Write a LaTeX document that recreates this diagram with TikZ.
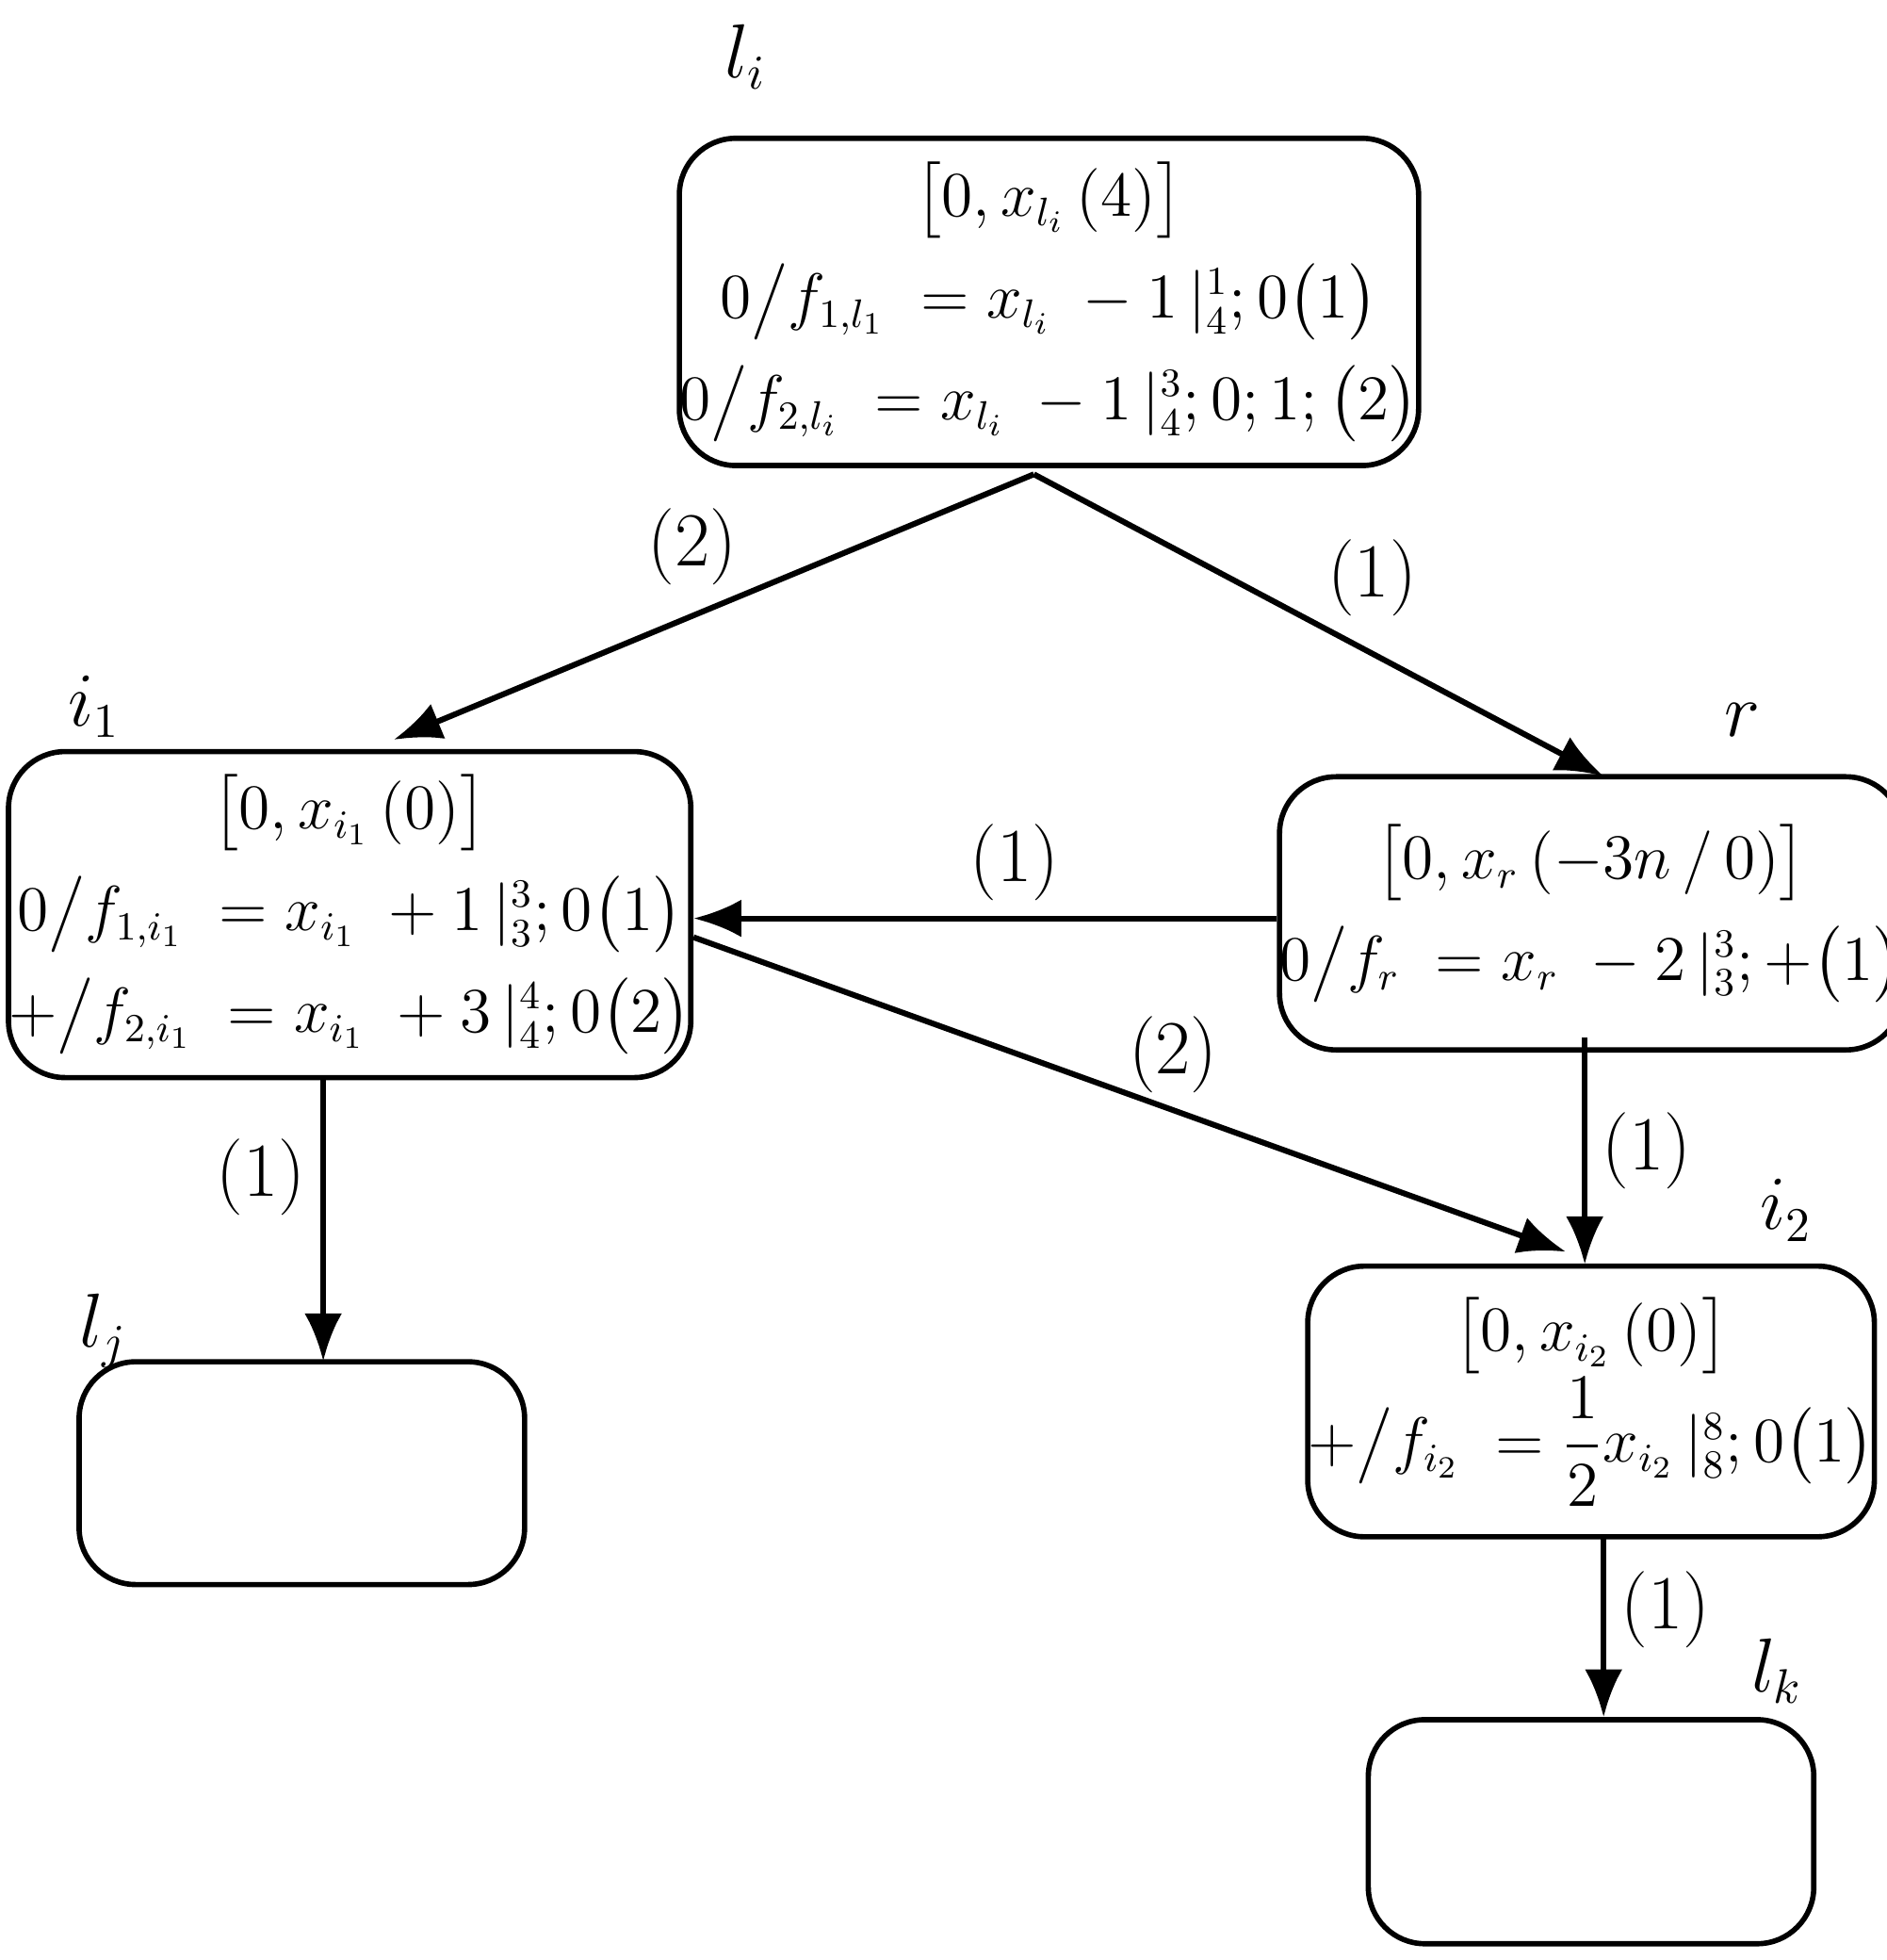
\documentclass[tikz,border=0pt]{standalone}
\usepackage{amsmath}
\usetikzlibrary{arrows.meta}
\begin{document}
\begin{tikzpicture}[x=0.01cm,y=-0.01cm,
 box/.style={draw,line width=1.2pt,rounded corners=0.45cm,align=center,inner sep=0pt,font=\fontsize{13.5}{21}\selectfont},
 arr/.style={line width=1.3pt,-{Latex[length=0.38cm,width=0.3cm]}},
 lab/.style={font=\fontsize{16}{18}\selectfont},
 nm/.style={font=\fontsize{16}{18}\selectfont}]
\useasboundingbox (0,0) rectangle (1500,1558);
\node[box,minimum width=5.18cm,minimum height=2.6cm] (li) at (834,240)
 {$\bigl[0,x_{l_i}\,(4)\bigr]$\\[2pt] $0\big/f_{1,l_1}\;=x_{l_i}\;-1\,|_4^1;0\bigl(1\bigr)$\\[2pt] $0\big/f_{2,l_i}\;=x_{l_i}\;-1\,|_4^3;0;1;\bigl(2\bigr)$};
\node[box,minimum width=5.2cm,minimum height=2.59cm] (i1) at (278,727)
 {$\bigl[0,x_{i_1}\,(0)\bigr]$\\[2pt] $0\big/f_{1,i_1}\;=x_{i_1}\;+1\,|_3^3;0\bigl(1\bigr)$\\[2pt] $+\big/f_{2,i_1}\;=x_{i_1}\;+3\,|_4^4;0\bigl(2\bigr)$};
\node[box,minimum width=4.36cm,minimum height=2.17cm] (r) at (1265,726)
 {$\bigl[0,x_r\,(-3n\,/\,0)\bigr]$\\[2pt] $0\big/f_r\;=x_r\;-2\,|_3^3;+\bigl(1\bigr)$};
\node[box,minimum width=4.36cm,minimum height=2.15cm] (i2) at (1265,1114)
 {$\bigl[0,x_{i_2}\,(0)\bigr]$\\[0pt] $+\big/f_{i_2}\;=\dfrac{1}{2}x_{i_2}\,|_8^8;0\bigl(1\bigr)$};
\node[box,minimum width=3.54cm,minimum height=1.77cm] (lj) at (240,1171) {};
\node[box,minimum width=3.54cm,minimum height=1.78cm] (lk) at (1265,1456) {};
\node[nm] (nli) at (593,45) {$l_i$};
\node[nm] (ni1) at (75,562) {$i_1$};
\node[nm] (nr) at (1385,572) {$r$};
\node[nm] (ni2) at (1420,962) {$i_2$};
\node[nm] (nlj) at (82,1058) {$l_j$};
\node[nm] (nlk) at (1413,1328) {$l_k$};
\coordinate (top) at (822,377);
\draw[arr] (top) -- (313,588) node[lab,pos=0.45,above left=-2pt] {$(2)$};
\draw[arr] (top) -- (1275,617) node[lab,pos=0.5,above right=-2pt] {$(1)$};
\draw[arr] (r.west |- 0,730) -- (i1.east |- 0,730) node[lab,pos=0.45,above] {$(1)$};
\draw[arr] (i1.east |- 0,745) -- (1245,995) node[lab,pos=0.55,above] {$(2)$};
\draw[arr] (1260,825) -- (1260,1005) node[lab,midway,right] {$(1)$};
\draw[arr] (257,857) -- (257,1082) node[lab,pos=0.35,left] {$(1)$};
\draw[arr] (1275,1222) -- (1275,1365) node[lab,pos=0.4,right] {$(1)$};
\end{tikzpicture}
\end{document}
